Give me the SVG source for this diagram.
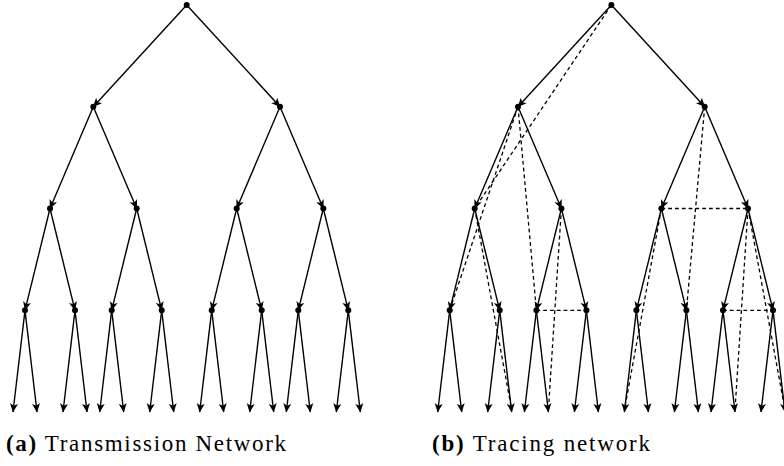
<svg xmlns="http://www.w3.org/2000/svg" width="784" height="466" viewBox="0 0 784 466">
<style>
.e{stroke:#000;stroke-width:1.4;fill:none;marker-end:url(#ah)}
.d{stroke:#000;stroke-width:1.3;fill:none;stroke-dasharray:3.8 3}
.n{fill:#000}
.cap{font-family:"Liberation Serif","Times New Roman",serif;font-size:23px;fill:#000}
.b{font-weight:bold}
</style>
<defs>
<marker id="ah" viewBox="-10 -5 11 10" markerWidth="11" markerHeight="10" refX="0" refY="0" orient="auto" markerUnits="userSpaceOnUse">
<path d="M0.5,0 L-8.5,-4 L-6.3,0 L-8.5,4 Z" fill="#000"/>
</marker>
</defs>
<g id="connectors">
<line class="e" x1="186.7" y1="5" x2="93.3" y2="106.7"/>
<line class="e" x1="186.7" y1="5" x2="280" y2="106.7"/>
<line class="e" x1="93.3" y1="106.7" x2="50" y2="208.5"/>
<line class="e" x1="93.3" y1="106.7" x2="136.7" y2="208.5"/>
<line class="e" x1="280" y1="106.7" x2="236.7" y2="208.5"/>
<line class="e" x1="280" y1="106.7" x2="323.3" y2="208.5"/>
<line class="e" x1="50" y1="208.5" x2="25" y2="310.3"/>
<line class="e" x1="50" y1="208.5" x2="75" y2="310.3"/>
<line class="e" x1="136.7" y1="208.5" x2="111.7" y2="310.3"/>
<line class="e" x1="136.7" y1="208.5" x2="161.7" y2="310.3"/>
<line class="e" x1="236.7" y1="208.5" x2="211.7" y2="310.3"/>
<line class="e" x1="236.7" y1="208.5" x2="261.7" y2="310.3"/>
<line class="e" x1="323.3" y1="208.5" x2="298.3" y2="310.3"/>
<line class="e" x1="323.3" y1="208.5" x2="348.3" y2="310.3"/>
<line class="e" x1="25" y1="310.3" x2="13" y2="412"/>
<line class="e" x1="25" y1="310.3" x2="37" y2="412"/>
<line class="e" x1="75" y1="310.3" x2="63" y2="412"/>
<line class="e" x1="75" y1="310.3" x2="87" y2="412"/>
<line class="e" x1="111.7" y1="310.3" x2="99.7" y2="412"/>
<line class="e" x1="111.7" y1="310.3" x2="123.7" y2="412"/>
<line class="e" x1="161.7" y1="310.3" x2="149.7" y2="412"/>
<line class="e" x1="161.7" y1="310.3" x2="173.7" y2="412"/>
<line class="e" x1="211.7" y1="310.3" x2="199.7" y2="412"/>
<line class="e" x1="211.7" y1="310.3" x2="223.7" y2="412"/>
<line class="e" x1="261.7" y1="310.3" x2="249.7" y2="412"/>
<line class="e" x1="261.7" y1="310.3" x2="273.7" y2="412"/>
<line class="e" x1="298.3" y1="310.3" x2="286.3" y2="412"/>
<line class="e" x1="298.3" y1="310.3" x2="310.3" y2="412"/>
<line class="e" x1="348.3" y1="310.3" x2="336.3" y2="412"/>
<line class="e" x1="348.3" y1="310.3" x2="360.3" y2="412"/>
<line class="e" x1="611.4" y1="5" x2="518" y2="106.7"/>
<line class="e" x1="611.4" y1="5" x2="704.7" y2="106.7"/>
<line class="e" x1="518" y1="106.7" x2="474.7" y2="208.5"/>
<line class="e" x1="518" y1="106.7" x2="561.4" y2="208.5"/>
<line class="e" x1="704.7" y1="106.7" x2="661.4" y2="208.5"/>
<line class="e" x1="704.7" y1="106.7" x2="748" y2="208.5"/>
<line class="e" x1="474.7" y1="208.5" x2="449.7" y2="310.3"/>
<line class="e" x1="474.7" y1="208.5" x2="499.7" y2="310.3"/>
<line class="e" x1="561.4" y1="208.5" x2="536.4" y2="310.3"/>
<line class="e" x1="561.4" y1="208.5" x2="586.4" y2="310.3"/>
<line class="e" x1="661.4" y1="208.5" x2="636.4" y2="310.3"/>
<line class="e" x1="661.4" y1="208.5" x2="686.4" y2="310.3"/>
<line class="e" x1="748" y1="208.5" x2="723" y2="310.3"/>
<line class="e" x1="748" y1="208.5" x2="773" y2="310.3"/>
<line class="e" x1="449.7" y1="310.3" x2="437.7" y2="412"/>
<line class="e" x1="449.7" y1="310.3" x2="461.7" y2="412"/>
<line class="e" x1="499.7" y1="310.3" x2="487.7" y2="412"/>
<line class="e" x1="499.7" y1="310.3" x2="511.7" y2="412"/>
<line class="e" x1="536.4" y1="310.3" x2="524.4" y2="412"/>
<line class="e" x1="536.4" y1="310.3" x2="548.4" y2="412"/>
<line class="e" x1="586.4" y1="310.3" x2="574.4" y2="412"/>
<line class="e" x1="586.4" y1="310.3" x2="598.4" y2="412"/>
<line class="e" x1="636.4" y1="310.3" x2="624.4" y2="412"/>
<line class="e" x1="636.4" y1="310.3" x2="648.4" y2="412"/>
<line class="e" x1="686.4" y1="310.3" x2="674.4" y2="412"/>
<line class="e" x1="686.4" y1="310.3" x2="698.4" y2="412"/>
<line class="e" x1="723" y1="310.3" x2="711" y2="412"/>
<line class="e" x1="723" y1="310.3" x2="735" y2="412"/>
<line class="e" x1="773" y1="310.3" x2="761" y2="412"/>
<line class="e" x1="773" y1="310.3" x2="785" y2="412"/>
<line class="d" x1="611.4" y1="5" x2="474.7" y2="208.5"/>
<line class="d" x1="518" y1="106.7" x2="449.7" y2="310.3"/>
<line class="d" x1="518" y1="106.7" x2="536.4" y2="310.3"/>
<line class="d" x1="474.7" y1="208.5" x2="511.7" y2="410"/>
<line class="d" x1="561.4" y1="208.5" x2="548.4" y2="410"/>
<line class="d" x1="536.4" y1="310.3" x2="586.4" y2="310.3"/>
<line class="d" x1="704.7" y1="106.7" x2="686.4" y2="310.3"/>
<line class="d" x1="661.4" y1="208.5" x2="748" y2="208.5"/>
<line class="d" x1="661.4" y1="208.5" x2="624.4" y2="410"/>
<line class="d" x1="748" y1="208.5" x2="735" y2="410"/>
<line class="d" x1="748" y1="208.5" x2="785" y2="410"/>
<line class="d" x1="723" y1="310.3" x2="773" y2="310.3"/>
</g>
<g id="tree-a">
<g id="a-root"><circle class="n" cx="186.7" cy="5" r="3"/></g>
<g id="a-1-1"><circle class="n" cx="93.3" cy="106.7" r="3"/></g>
<g id="a-1-2"><circle class="n" cx="280" cy="106.7" r="3"/></g>
<g id="a-2-1"><circle class="n" cx="50" cy="208.5" r="3"/></g>
<g id="a-2-2"><circle class="n" cx="136.7" cy="208.5" r="3"/></g>
<g id="a-2-3"><circle class="n" cx="236.7" cy="208.5" r="3"/></g>
<g id="a-2-4"><circle class="n" cx="323.3" cy="208.5" r="3"/></g>
<g id="a-3-1"><circle class="n" cx="25" cy="310.3" r="3"/></g>
<g id="a-3-2"><circle class="n" cx="75" cy="310.3" r="3"/></g>
<g id="a-3-3"><circle class="n" cx="111.7" cy="310.3" r="3"/></g>
<g id="a-3-4"><circle class="n" cx="161.7" cy="310.3" r="3"/></g>
<g id="a-3-5"><circle class="n" cx="211.7" cy="310.3" r="3"/></g>
<g id="a-3-6"><circle class="n" cx="261.7" cy="310.3" r="3"/></g>
<g id="a-3-7"><circle class="n" cx="298.3" cy="310.3" r="3"/></g>
<g id="a-3-8"><circle class="n" cx="348.3" cy="310.3" r="3"/></g>
</g>
<g id="tree-b">
<g id="b-root"><circle class="n" cx="611.4" cy="5" r="3"/></g>
<g id="b-1-1"><circle class="n" cx="518" cy="106.7" r="3"/></g>
<g id="b-1-2"><circle class="n" cx="704.7" cy="106.7" r="3"/></g>
<g id="b-2-1"><circle class="n" cx="474.7" cy="208.5" r="3"/></g>
<g id="b-2-2"><circle class="n" cx="561.4" cy="208.5" r="3"/></g>
<g id="b-2-3"><circle class="n" cx="661.4" cy="208.5" r="3"/></g>
<g id="b-2-4"><circle class="n" cx="748" cy="208.5" r="3"/></g>
<g id="b-3-1"><circle class="n" cx="449.7" cy="310.3" r="3"/></g>
<g id="b-3-2"><circle class="n" cx="499.7" cy="310.3" r="3"/></g>
<g id="b-3-3"><circle class="n" cx="536.4" cy="310.3" r="3"/></g>
<g id="b-3-4"><circle class="n" cx="586.4" cy="310.3" r="3"/></g>
<g id="b-3-5"><circle class="n" cx="636.4" cy="310.3" r="3"/></g>
<g id="b-3-6"><circle class="n" cx="686.4" cy="310.3" r="3"/></g>
<g id="b-3-7"><circle class="n" cx="723" cy="310.3" r="3"/></g>
<g id="b-3-8"><circle class="n" cx="773" cy="310.3" r="3"/></g>
</g>
<g id="captions">
<text class="cap" x="6" y="451" textLength="280" lengthAdjust="spacing"><tspan class="b">(a)</tspan> Transmission Network</text>
<text class="cap" x="432" y="451" textLength="218" lengthAdjust="spacing"><tspan class="b">(b)</tspan> Tracing network</text>
</g>
</svg>
